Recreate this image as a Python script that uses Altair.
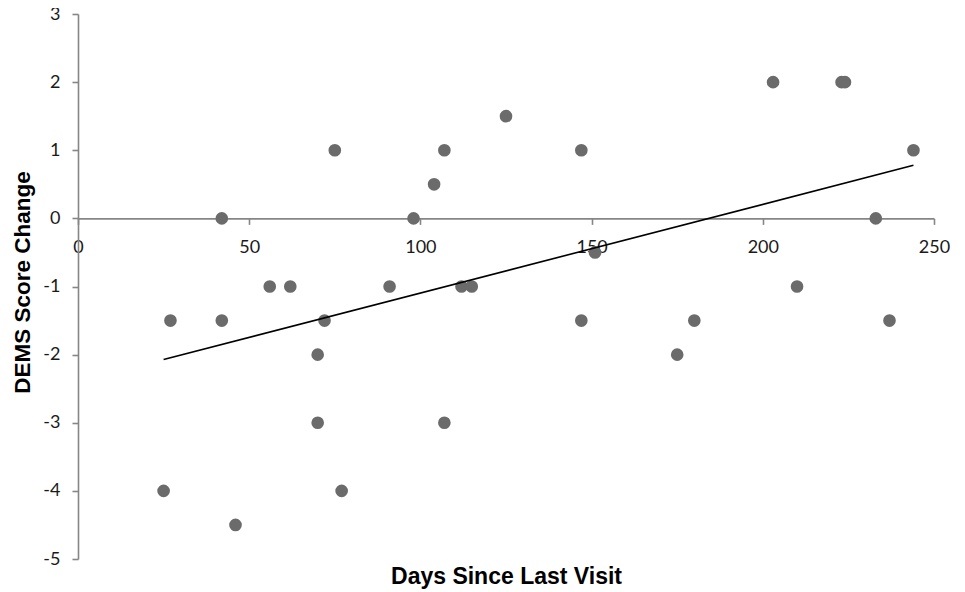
import altair as alt
import pandas as pd

days = [25, 27, 42, 42, 46, 56, 62, 75, 72, 70, 70, 77, 91, 98, 104, 107,
        107, 112, 115, 125, 147, 147, 151, 175, 180, 203, 210, 223, 224, 233, 237, 244]
dems = [-4, -1.5, 0, -1.5, -4.5, -1, -1, 1, -1.5, -2, -3, -4, -1, 0, 0.5, 1,
        -3, -1, -1, 1.5, 1, -1.5, -0.5, -2, -1.5, 2, -1, 2, 2, 0, -1.5, 1]

x_ticks = [0, 50, 100, 150, 200, 250]
y_ticks = [3, 2, 1, 0, -1, -2, -3, -4, -5]

df = pd.DataFrame({"days": days, "dems": dems})

W, H = 856, 545

x_enc = alt.X(
    "days:Q",
    scale=alt.Scale(domain=[0, 250], nice=False, zero=False),
    axis=alt.Axis(
        values=x_ticks, grid=False, offset=-H * 5 / 8, labelFlush=False,
        labelExpr="'' + datum.value",
        domainColor="#868686", domainWidth=1.6, tickColor="#868686", tickWidth=1.6,
        tickSize=6, labelPadding=14, labelFont="Lato", labelFontSize=18,
        labelColor="#1a1a1a", title="Days Since Last Visit", titleFont="Arial",
        titleFontSize=23, titleFontWeight="bold", titleColor="#000000",
        titleX=428, titleY=358, titleBaseline="middle", titleAnchor="middle"
    ),
)
y_enc = alt.Y(
    "dems:Q",
    scale=alt.Scale(domain=[-5, 3], nice=False, zero=False),
    axis=alt.Axis(
        values=y_ticks, grid=False, labelFlush=False,
        labelExpr="'' + datum.value",
        domainColor="#868686", domainWidth=1.6, tickColor="#868686", tickWidth=1.6,
        tickSize=6, labelPadding=12, labelFont="Lato", labelFontSize=18,
        labelColor="#1a1a1a", title="DEMS Score Change", titleFont="Arial",
        titleFontSize=22.5, titleFontWeight="bold", titleColor="#000000",
        titleX=-56, titleY=268, titleBaseline="middle", titleAnchor="middle",
        titleAngle=270
    ),
)

points = alt.Chart(df).mark_circle(size=160, color="#6b6b6b", opacity=1).encode(
    x=x_enc, y=y_enc
)

trend = alt.Chart(df).transform_regression("days", "dems").mark_line(
    color="#000000", strokeWidth=1.6
).encode(x="days:Q", y="dems:Q")

chart = alt.layer(points, trend).properties(
    width=W, height=H,
    autosize=alt.AutoSizeParams(type="none"),
    padding={"left": 70, "top": 6, "right": 20, "bottom": 33},
).configure_view(stroke=None)

chart.save("out.html", embed_options={"renderer": "svg", "actions": False})
